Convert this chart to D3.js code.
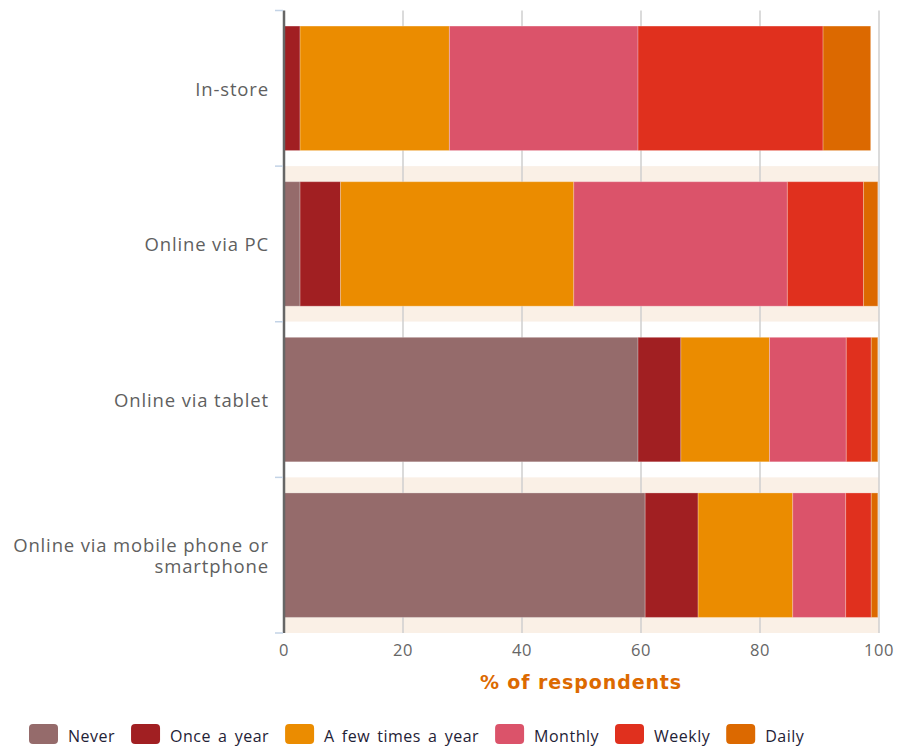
<!DOCTYPE html>
<html>
<head>
<meta charset="utf-8">
<script src="https://cdn.jsdelivr.net/npm/d3@7"></script>
<style>
  html, body { margin: 0; padding: 0; background: #ffffff; }
  svg { display: block; font-family: "Open Sans", "DejaVu Sans", sans-serif; }
</style>
</head>
<body>
<svg id="chart" width="900" height="749"></svg>
<script>
// ---- data ----
const categories = ["In-store", "Online via PC", "Online via tablet", "Online via mobile phone or smartphone"];
const seriesNames = ["Never", "Once a year", "A few times a year", "Monthly", "Weekly", "Daily"];
const seriesColors = ["#956b6b", "#a11f22", "#eb8c00", "#db536a", "#e0301e", "#dc6900"];
const never        = [0.0, 2.7, 59.5, 60.7];
const onceAYear    = [2.7, 6.8, 7.2, 8.9];
const fewTimes     = [25.1, 39.2, 14.9, 15.9];
const monthly      = [31.7, 35.9, 12.9, 8.9];
const weekly       = [31.1, 12.8, 4.2, 4.3];
const daily        = [8.0, 2.4, 1.1, 1.1];
const xTicks = [0, 20, 40, 60, 80, 100];
const xTitle = "% of respondents";

const seriesValues = [never, onceAYear, fewTimes, monthly, weekly, daily];
const table = categories.map((c, i) => {
  const row = { category: c };
  seriesNames.forEach((s, j) => row[s] = seriesValues[j][i]);
  return row;
});

(function () {
const svg = d3.select("#chart");
const pLeft = 284, pRight = 879, pTop = 10.5, pBottom = 633;

const x = d3.scaleLinear().domain([0, 100]).range([pLeft, pRight]);
const y = d3.scaleBand().domain(categories).range([pTop, pBottom]).padding(0);
const barPad = 0.1;

// alternating band backgrounds
svg.append("g").selectAll("rect").data(categories).join("rect")
  .attr("x", pLeft).attr("width", pRight - pLeft)
  .attr("y", d => y(d)).attr("height", y.bandwidth())
  .attr("fill", (d, i) => i % 2 === 1 ? "#faf0e6" : "#ffffff");

// gridlines
svg.append("g").selectAll("line").data(xTicks.filter(t => t > 0)).join("line")
  .attr("x1", d => x(d)).attr("x2", d => x(d))
  .attr("y1", pTop).attr("y2", pBottom)
  .attr("stroke", "#cfcfcf").attr("stroke-width", 1.5);

// stacked bars
const stack = d3.stack().keys(seriesNames)(table);
const color = d3.scaleOrdinal().domain(seriesNames).range(seriesColors);
svg.append("g").selectAll("g").data(stack).join("g")
  .attr("fill", d => color(d.key))
  .selectAll("rect").data(d => d).join("rect")
  .attr("x", d => x(d[0]))
  .attr("width", d => Math.max(0, x(d[1]) - x(d[0])))
  .attr("y", d => y(d.data.category) + y.bandwidth() * barPad)
  .attr("height", y.bandwidth() * (1 - 2 * barPad))
  .attr("stroke", "rgba(255,255,255,0.25)").attr("stroke-width", 1);

// left axis line
svg.append("line")
  .attr("x1", pLeft).attr("x2", pLeft).attr("y1", pTop).attr("y2", pBottom)
  .attr("stroke", "#666666").attr("stroke-width", 2.5);

// left tick marks at band boundaries
const boundaries = categories.map(c => y(c)).concat([pBottom]);
svg.append("g").selectAll("line").data(boundaries).join("line")
  .attr("x1", pLeft - 9).attr("x2", pLeft - 1)
  .attr("y1", d => d).attr("y2", d => d)
  .attr("stroke", "#c3d3e6").attr("stroke-width", 1.5);

// category labels
const labelLines = {
  "Online via mobile phone or smartphone": ["Online via mobile phone or", "smartphone"]
};
const catG = svg.append("g");
categories.forEach(c => {
  const lines = labelLines[c] || [c];
  const cy = y(c) + y.bandwidth() / 2;
  const lh = 20.5;
  lines.forEach((ln, k) => {
    catG.append("text")
      .attr("text-anchor", "end")
      .attr("fill", "#5f5f5f")
      .style("font-size", "18.5px")
      .style("letter-spacing", "0.85px")
      .attr("x", 269)
      .attr("y", cy + 7.5 - (lines.length - 1) * lh / 2 + k * lh)
      .text(ln);
  });
});

// x tick labels
svg.append("g").selectAll("text").data(xTicks).join("text")
  .attr("x", d => x(d)).attr("y", 656)
  .attr("text-anchor", "middle")
  .attr("fill", "#666666")
  .style("font-size", "16.5px")
  .style("letter-spacing", "0.5px")
  .text(d => d);

// x title
svg.append("text")
  .attr("x", (pLeft + pRight) / 2 - 0.5).attr("y", 689)
  .attr("text-anchor", "middle")
  .attr("fill", "#dc6900")
  .style("font-family", "'DejaVu Sans', sans-serif")
  .style("font-size", "19px").style("font-weight", "bold")
  .style("letter-spacing", "0.9px")
  .text(xTitle);

// legend
const lg = svg.append("g");
let lx = 29;
seriesNames.forEach((s, i) => {
  lg.append("rect").attr("x", lx).attr("y", 724).attr("width", 29).attr("height", 20)
    .attr("rx", 4).attr("fill", seriesColors[i]);
  const t = lg.append("text").attr("x", lx + 39).attr("y", 742)
    .attr("fill", "#1f2236").style("font-size", "16px")
    .style("letter-spacing", "0.5px").style("word-spacing", "2.5px").text(s);
  lx = lx + 39 + t.node().getComputedTextLength() + 16;
});
})();
</script>
</body>
</html>
